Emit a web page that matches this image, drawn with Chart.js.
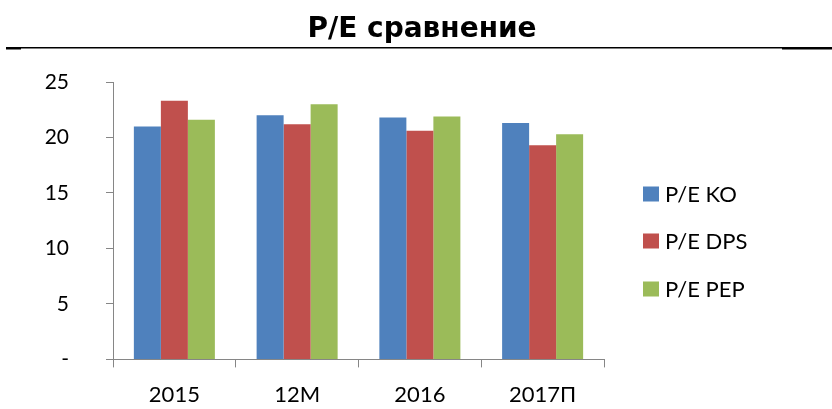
<!DOCTYPE html>
<html>
<head>
<meta charset="utf-8">
<script src="https://cdn.jsdelivr.net/npm/chart.js@4.4.1/dist/chart.umd.min.js"></script>
<style>
  html, body { margin: 0; padding: 0; background: #ffffff; }
  #wrap { width: 832px; height: 409px; position: relative; }
</style>
</head>
<body>
<div id="wrap"><canvas id="c" width="832" height="409"></canvas></div>
<script>
const categories = ['2015', '12M', '2016', '2017П'];
const seriesNames = ['P/E KO', 'P/E DPS', 'P/E PEP'];
const peKO  = [21.0, 22.0, 21.8, 21.3];
const peDPS = [23.3, 21.2, 20.6, 19.3];
const pePEP = [21.6, 23.0, 21.9, 20.3];
const yTicks = [0, 5, 10, 15, 20, 25];
const yTickLabels = ['-', '5', '10', '15', '20', '25'];
const titleText = 'P/E сравнение';
const colors = ['#4F81BD', '#C0504D', '#9BBB59'];

const FONT = 'Lato, "Open Sans", sans-serif';
const axisGrey = '#868686';

const decorPlugin = {
  id: 'decor',
  afterDraw(chart) {
    const ctx = chart.ctx;
    ctx.save();
    // title
    ctx.fillStyle = '#000';
    ctx.font = 'bold 28px "DejaVu Sans", sans-serif';
    ctx.textAlign = 'center';
    ctx.textBaseline = 'alphabetic';
    ctx.fillText(titleText, 422, 37);
    // rule under title
    ctx.fillRect(21, 47, 761, 1.5);
    ctx.fillRect(6, 47, 15, 2.5);
    ctx.fillRect(782, 47, 50, 2.5);
    // legend
    const ys = [194, 241, 289];
    ctx.font = '22px ' + FONT;
    ctx.textBaseline = 'middle';
    ctx.textAlign = 'left';
    chart.data.datasets.forEach((ds, i) => {
      ctx.fillStyle = ds.backgroundColor;
      ctx.fillRect(643, ys[i] - 7.5, 16, 15);
      ctx.fillStyle = '#000';
      ctx.fillText(ds.label, 665, ys[i] + 1);
    });
    ctx.restore();
  }
};

new Chart(document.getElementById('c'), {
  type: 'bar',
  data: {
    labels: categories,
    datasets: [
      { label: seriesNames[0], data: peKO,  backgroundColor: colors[0] },
      { label: seriesNames[1], data: peDPS, backgroundColor: colors[1] },
      { label: seriesNames[2], data: pePEP, backgroundColor: colors[2] }
    ]
  },
  options: {
    responsive: false,
    animation: false,
    devicePixelRatio: 1,
    layout: { padding: { top: 82, right: 228, bottom: 0, left: 0 } },
    datasets: { bar: { categoryPercentage: 0.66, barPercentage: 1.0, borderWidth: 0 } },
    plugins: {
      legend: { display: false },
      tooltip: { enabled: false },
      title: { display: false }
    },
    scales: {
      x: {
        afterFit(scale) { scale.height = 46; },
        grid: {
          display: true, drawOnChartArea: false, drawTicks: true,
          tickLength: 8, color: axisGrey, offset: true
        },
        border: { display: true, color: axisGrey, width: 1 },
        ticks: { color: '#000', padding: 14, font: { family: FONT, size: 22 }, maxRotation: 0 }
      },
      y: {
        min: 0, max: 25,
        afterFit(scale) { scale.width = 113; },
        afterBuildTicks(scale) { scale.ticks = yTicks.map(v => ({ value: v })); },
        grid: {
          display: true, drawOnChartArea: false, drawTicks: true,
          tickLength: 7, color: axisGrey
        },
        border: { display: true, color: axisGrey, width: 1 },
        ticks: {
          color: '#000', padding: 37, font: { family: FONT, size: 21 },
          callback(value) { const i = yTicks.indexOf(value); return i >= 0 ? yTickLabels[i] : ''; }
        }
      }
    }
  },
  plugins: [decorPlugin]
});
</script>
</body>
</html>
